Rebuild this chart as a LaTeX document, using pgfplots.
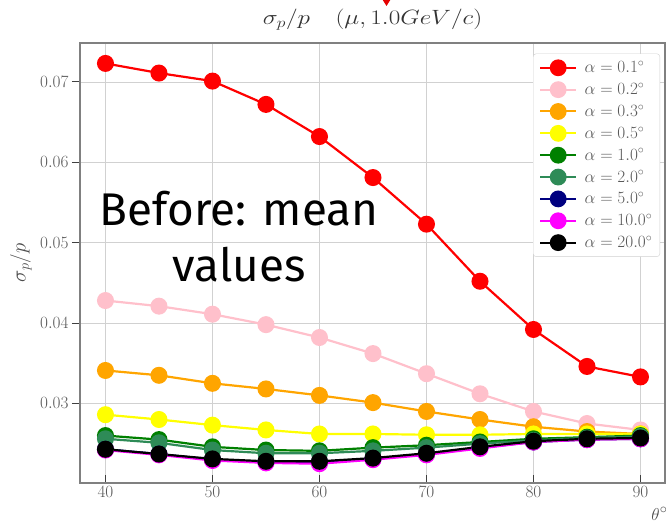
\documentclass[border=0pt]{standalone}
\usepackage{pgfplots}
\pgfplotsset{compat=1.18}
\usepackage{fontspec}
\newfontfamily\annfont{Fira Sans}
\definecolor{cpink}{HTML}{FFC0CB}
\definecolor{corange}{HTML}{FFA500}
\definecolor{cyellow}{HTML}{FFFF00}
\definecolor{cgreen}{HTML}{008000}
\definecolor{cseagreen}{HTML}{2E8B57}
\definecolor{cnavy}{HTML}{000080}
\definecolor{cmagenta}{HTML}{FF00FF}
\begin{document}
\begin{tikzpicture}
\begin{axis}[
  scale only axis, width=585bp, height=440bp,
  xmin=37.62, xmax=92.29, ymin=0.0201, ymax=0.07484,
  xtick={40,50,60,70,80,90},
  ytick={0.03,0.04,0.05,0.06,0.07},
  scaled y ticks=false,
  yticklabel style={/pgf/number format/.cd,fixed,fixed zerofill,precision=2},
  grid=major, grid style={draw=black!18, line width=0.8bp},
  axis line style={draw=black!50, line width=1.2bp},
  tick pos=left, xtick align=inside, ytick align=outside, major tick length=8bp,
  tick style={draw=black!75, line width=1bp},
  tick label style={font=\fontsize{16.5}{16.5}\selectfont, text=black!65},
  title={$\sigma_p/p\quad(\mu,1.0GeV/c)$},
  title style={font=\fontsize{21}{21}\selectfont, at={(0.5,1)}, anchor=center, yshift=17bp, xscale=1.22, text=black!80},
  xlabel={$\theta^\circ$},
  xlabel style={at={(axis description cs:1,0)}, anchor=north east, yshift=-21bp, xshift=6bp, font=\fontsize{19}{19}\selectfont, text=black!70},
  ylabel={$\sigma_p/p$},
  ylabel style={at={(axis description cs:-0.101,0.5)}, anchor=center, font=\fontsize{21}{21}\selectfont, text=black!70},
  every axis plot/.append style={line width=2.2bp, mark=*, mark size=7.4bp, mark options={solid}},
  legend style={at={(axis description cs:0.9915,0.976)}, anchor=north east, draw=black!18, rounded corners=3bp, fill=white, font=\fontsize{16.5}{16.5}\selectfont, row sep=5.8bp, inner sep=6bp, nodes={inner sep=1.5bp, text=black!65}, /tikz/every odd column/.append style={column sep=6bp}},
  legend cell align=left,
  legend image code/.code={\draw[mark repeat=2,mark phase=2,mark size=7.4bp,line width=2bp] plot coordinates {(0bp,0bp)(18bp,0bp)(36bp,0bp)};},
]
\addplot[color=red] coordinates {(40,0.0723)(45,0.0711)(50,0.0701)(55,0.0672)(60,0.0632)(65,0.0581)(70,0.0523)(75,0.0452)(80,0.0392)(85,0.0346)(90,0.0333)};
\addlegendentry{$\alpha=0.1^\circ$}
\addplot[color=cpink] coordinates {(40,0.0428)(45,0.0421)(50,0.0411)(55,0.0398)(60,0.0382)(65,0.0362)(70,0.0337)(75,0.0312)(80,0.0290)(85,0.0275)(90,0.0267)};
\addlegendentry{$\alpha=0.2^\circ$}
\addplot[color=corange] coordinates {(40,0.0341)(45,0.0335)(50,0.0325)(55,0.0318)(60,0.0310)(65,0.0301)(70,0.0290)(75,0.0280)(80,0.0271)(85,0.0265)(90,0.0262)};
\addlegendentry{$\alpha=0.3^\circ$}
\addplot[color=cyellow] coordinates {(40,0.0286)(45,0.0280)(50,0.0273)(55,0.0267)(60,0.0262)(65,0.0262)(70,0.0261)(75,0.0261)(80,0.0262)(85,0.0262)(90,0.0262)};
\addlegendentry{$\alpha=0.5^\circ$}
\addplot[color=cgreen] coordinates {(40,0.0260)(45,0.0255)(50,0.0246)(55,0.0242)(60,0.0241)(65,0.0245)(70,0.0248)(75,0.0252)(80,0.0256)(85,0.0258)(90,0.0260)};
\addlegendentry{$\alpha=1.0^\circ$}
\addplot[color=cseagreen] coordinates {(40,0.0256)(45,0.0251)(50,0.0242)(55,0.0238)(60,0.0238)(65,0.0241)(70,0.0245)(75,0.0250)(80,0.0254)(85,0.0257)(90,0.0259)};
\addlegendentry{$\alpha=2.0^\circ$}
\addplot[color=cnavy] coordinates {(40,0.0243)(45,0.0237)(50,0.0230)(55,0.0227)(60,0.0227)(65,0.0231)(70,0.0237)(75,0.0245)(80,0.0252)(85,0.0255)(90,0.0256)};
\addlegendentry{$\alpha=5.0^\circ$}
\addplot[color=cmagenta] coordinates {(40,0.0242)(45,0.0236)(50,0.0229)(55,0.0226)(60,0.0225)(65,0.0230)(70,0.0236)(75,0.0244)(80,0.0252)(85,0.0255)(90,0.0256)};
\addlegendentry{$\alpha=10.0^\circ$}
\addplot[color=black] coordinates {(40,0.0243)(45,0.0237)(50,0.0231)(55,0.0228)(60,0.0228)(65,0.0232)(70,0.0238)(75,0.0246)(80,0.0253)(85,0.0256)(90,0.0257)};
\addlegendentry{$\alpha=20.0^\circ$}
\node[font=\annfont\fontsize{46}{46}\selectfont, anchor=base] at (axis description cs:0.272,0.586) {Before: mean};
\node[font=\annfont\fontsize{46}{46}\selectfont, anchor=base] at (axis description cs:0.272,0.457) {values};
\end{axis}
\fill[red!90!black] ([shift={(9bp,45bp)}]current axis.north) -- ([shift={(19bp,45bp)}]current axis.north) -- ([shift={(14bp,37bp)}]current axis.north) -- cycle;
\pgfresetboundingbox
\path[use as bounding box] ([shift={(-80bp,-46bp)}]current axis.south west) rectangle ([shift={(1bp,43bp)}]current axis.north east);
\end{tikzpicture}
\end{document}
